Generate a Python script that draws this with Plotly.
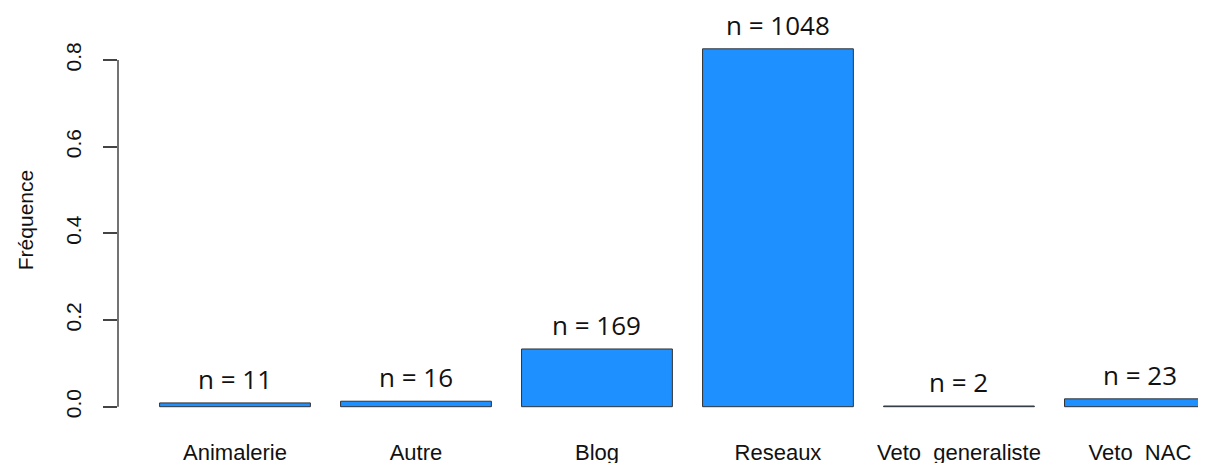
import plotly.graph_objects as go

categories = ["Animalerie", "Autre", "Blog", "Reseaux", "Veto_generaliste", "Veto_NAC"]
counts = [11, 16, 169, 1048, 2, 23]
frequencies = [0.0087, 0.0126, 0.1332, 0.8259, 0.0016, 0.0181]
y_ticks = [0.0, 0.2, 0.4, 0.6, 0.8]
y_tick_labels = ["0.0", "0.2", "0.4", "0.6", "0.8"]

AX = "#444444"

fig = go.Figure(
    go.Bar(
        x=categories,
        y=frequencies,
        width=1 / 1.2,
        marker=dict(color="#1E90FF", line=dict(color="#333333", width=1)),
        hoverinfo="skip",
    )
)

for c, f, n in zip(categories, frequencies, counts):
    fig.add_annotation(
        x=c, y=f, text=f"n = {n}", showarrow=False,
        yanchor="bottom", xanchor="center", yshift=4,
        font=dict(family="Open Sans", size=26, color="#111111"),
    )

# y axis line (R style: spans only from first to last tick)
fig.add_shape(type="line", xref="paper", yref="y", x0=0, x1=0,
              y0=y_ticks[0], y1=y_ticks[-1], line=dict(color=AX, width=1.5))

fig.update_layout(
    width=1198, height=455,
    margin=dict(l=110, r=0, t=2, b=33, autoexpand=False),
    paper_bgcolor="white", plot_bgcolor="white",
    showlegend=False,
    xaxis=dict(
        range=[-0.6464, 5.365], showline=False, ticks="", showgrid=False,
        zeroline=False, ticklabelstandoff=7, automargin=False,
        tickfont=dict(family="Liberation Sans", size=22, color="#111111"),
    ),
    yaxis=dict(
        range=[-0.0538, 0.9155], tickvals=y_ticks, ticktext=y_tick_labels,
        tickangle=-90, ticks="outside", ticklen=14, tickwidth=1.5, tickcolor=AX,
        showgrid=False, zeroline=False, showline=False, ticklabelstandoff=14,
        automargin=False,
        tickfont=dict(family="Liberation Sans", size=21, color="#111111"),
        title=dict(text="Fréquence", standoff=22,
                   font=dict(family="Liberation Sans", size=21, color="#111111")),
    ),
)

fig.write_html("out.html")
